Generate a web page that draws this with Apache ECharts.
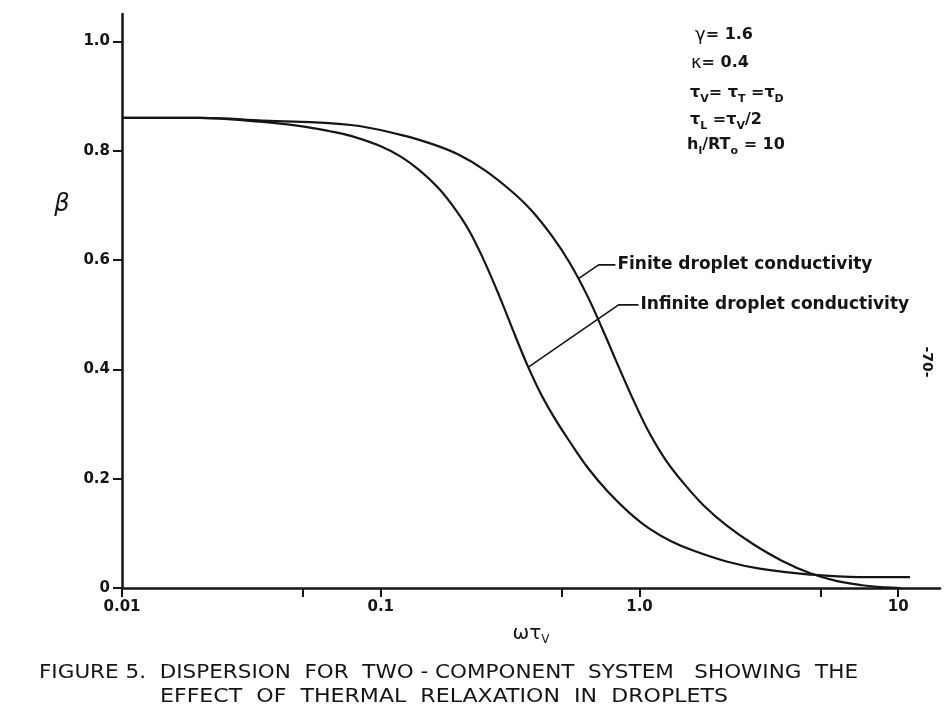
<!DOCTYPE html>
<html>
<head>
<meta charset="UTF-8">
<title>Figure 5 - Dispersion</title>
<style>
  html, body { margin: 0; padding: 0; background: #fff; }
  #container { width: 949px; height: 712px; }
</style>
</head>
<body>
<div id="container"></div>
<script src="https://cdn.jsdelivr.net/npm/echarts@6/dist/echarts.min.js"></script>
<script>
// omega*tau_v (log scale) and beta
var finiteW = [0.01, 0.02, 0.035, 0.0766, 0.1195, 0.1585, 0.1995, 0.2512, 0.3162, 0.3802, 0.4571, 0.537, 0.631, 0.7244, 0.8318, 0.955,
  1.096, 1.259, 1.479, 1.778, 2.188, 2.754, 3.548, 4.571, 5.754, 7.244, 8.913, 10.2];
var finiteB = [0.860, 0.860, 0.855, 0.847, 0.829, 0.812, 0.793, 0.765, 0.728, 0.692, 0.645, 0.595, 0.533, 0.470, 0.404, 0.340,
  0.282, 0.235, 0.192, 0.150, 0.113, 0.080, 0.050, 0.027, 0.013, 0.005, 0.001, 0.0];

var infiniteW = [0.01, 0.02, 0.032, 0.049, 0.063, 0.0766, 0.1, 0.1195, 0.1413, 0.166, 0.1905, 0.2188, 0.2512, 0.2884, 0.3311, 0.3715, 0.4169, 0.4677,
  0.537, 0.631, 0.7586, 0.912, 1.096, 1.318, 1.622, 2.188, 2.951, 4.467, 7.079, 11.1];
var infiniteB = [0.860, 0.860, 0.854, 0.845, 0.836, 0.827, 0.808, 0.789, 0.764, 0.733, 0.698, 0.655, 0.598, 0.532, 0.461, 0.404, 0.354, 0.312,
  0.268, 0.220, 0.175, 0.138, 0.108, 0.086, 0.068, 0.048, 0.035, 0.025, 0.020, 0.020];

// leader lines for the two curve labels [omega*tau_v, beta]
var finiteLeader = [[0.581, 0.566], [0.695, 0.591], [0.807, 0.591]];
var infiniteLeader = [[0.372, 0.404], [0.830, 0.518], [0.991, 0.518]];
var finiteName = 'Finite droplet conductivity';
var infiniteName = 'Infinite droplet conductivity';

// axes
var xMin = 0.01, xMax = 14.5;
var xTickValues = [0.01, 0.05, 0.1, 0.5, 1, 5, 10];
var xLabelValues = [0.01, 0.1, 1, 10];
var xLabelText = ['0.01', '0.1', '1.0', '10'];
var yTickValues = [0, 0.2, 0.4, 0.6, 0.8, 1.0];
var yMax = 1.05;

var paramLines = [
  '{g|γ}= 1.6',
  '{g|κ}= 0.4',
  'τ{s|V}= τ{s|T} =τ{s|D}',
  'τ{s|L} =τ{s|V}/2',
  'h{s|l}/RT{s|o} = 10'
];
var captionLines = [
  'FIGURE 5.  DISPERSION  FOR  TWO - COMPONENT  SYSTEM   SHOWING  THE',
  'EFFECT  OF  THERMAL  RELAXATION  IN  DROPLETS'
];
var pageNumber = '-70-';

var ink = '#151515';
var sans = "'DejaVu Sans', 'Noto Sans', sans-serif";

function toXY(w, b) {
  return w.map(function (v, i) { return [Math.log10(v), b[i]]; });
}
function leaderXY(list) {
  return list.map(function (p) { return [Math.log10(p[0]), p[1]]; });
}
function fitScale(text, font, width) {
  var ctx = document.createElement('canvas').getContext('2d');
  ctx.font = font;
  return width / ctx.measureText(text).width;
}

var chart = echarts.init(document.getElementById('container'));

var subRich = {
  g: { fontSize: 18, fontFamily: sans, lineHeight: 24, color: ink },
  s: { fontSize: 11, fontFamily: sans, fontWeight: 'bold', verticalAlign: 'bottom', lineHeight: 12, color: ink }
};

var paramY = [35, 63, 93, 120, 145];
var paramX = [695, 691, 690, 690, 687];
var graphics = [];
paramLines.forEach(function (t, i) {
  graphics.push({
    type: 'text', x: paramX[i], y: paramY[i],
    style: {
      text: t, fill: ink, font: 'bold 16px ' + sans, lineHeight: 24,
      verticalAlign: 'middle', align: 'left', rich: subRich
    }
  });
});

var capFont = '20px ' + sans;
var capLeft = [39, 160];
var capWidth = [819, 568];
var capY = [673, 697];
captionLines.forEach(function (t, i) {
  graphics.push({
    type: 'text', x: capLeft[i], y: capY[i],
    scaleX: fitScale(t, capFont, capWidth[i]),
    style: { text: t, fill: ink, font: capFont, verticalAlign: 'middle', align: 'left' }
  });
});

graphics.push({
  type: 'text', x: 62, y: 205,
  style: { text: 'β', fill: ink, font: 'italic 24px ' + sans, align: 'center', verticalAlign: 'middle' }
});
graphics.push({
  type: 'text', x: 927, y: 362, rotation: -Math.PI / 2,
  style: { text: pageNumber, fill: ink, font: 'bold 14px ' + sans, align: 'center', verticalAlign: 'middle' }
});

var labelFont = { color: ink, fontSize: 17, fontWeight: 'bold', fontFamily: sans };

var option = {
  animation: false,
  backgroundColor: '#fff',
  grid: { left: 122, right: 9, top: 14, bottom: 124 },
  xAxis: {
    type: 'value',
    min: Math.log10(xMin),
    max: Math.log10(xMax),
    axisLine: { onZero: false, lineStyle: { color: ink, width: 2.5 } },
    axisTick: {
      customValues: xTickValues.map(Math.log10),
      length: 9,
      lineStyle: { color: ink, width: 2 }
    },
    axisLabel: {
      customValues: xLabelValues.map(Math.log10),
      formatter: function (v) {
        for (var i = 0; i < xLabelValues.length; i++) {
          if (Math.abs(Math.log10(xLabelValues[i]) - v) < 1e-6) return xLabelText[i];
        }
        return '';
      },
      margin: 12, color: ink, fontSize: 15, fontWeight: 'bold', fontFamily: sans
    },
    splitLine: { show: false },
    name: '{w|ωτ}{s|V}',
    nameLocation: 'middle',
    nameGap: 34,
    nameTextStyle: {
      color: ink, fontSize: 19, lineHeight: 24,
      rich: {
        w: { fontSize: 20, fontFamily: sans, lineHeight: 24, color: ink },
        s: { fontSize: 12, fontFamily: sans, verticalAlign: 'bottom', lineHeight: 12, color: ink }
      }
    }
  },
  yAxis: {
    type: 'value',
    min: 0,
    max: yMax,
    axisLine: { show: true, onZero: false, lineStyle: { color: ink, width: 2.5 } },
    axisTick: {
      show: true,
      customValues: yTickValues,
      length: 9,
      lineStyle: { color: ink, width: 2 }
    },
    axisLabel: {
      customValues: yTickValues,
      formatter: function (v) { return v === 0 ? '0' : v.toFixed(1); },
      margin: 12, color: ink, fontSize: 15, fontWeight: 'bold', fontFamily: sans
    },
    splitLine: { show: false }
  },
  series: [
    {
      name: finiteName, type: 'line', data: toXY(finiteW, finiteB),
      smooth: 0.4, showSymbol: false,
      lineStyle: { color: ink, width: 2.2 }
    },
    {
      name: infiniteName, type: 'line', data: toXY(infiniteW, infiniteB),
      smooth: 0.4, showSymbol: false,
      lineStyle: { color: ink, width: 2.2 }
    },
    {
      type: 'line', data: leaderXY(finiteLeader), showSymbol: false,
      lineStyle: { color: ink, width: 1.6 },
      endLabel: Object.assign({ show: true, formatter: finiteName, distance: 2 }, labelFont)
    },
    {
      type: 'line', data: leaderXY(infiniteLeader), showSymbol: false,
      lineStyle: { color: ink, width: 1.6 },
      endLabel: Object.assign({ show: true, formatter: infiniteName, distance: 2 }, labelFont)
    }
  ],
  graphic: graphics
};

chart.setOption(option);
</script>
</body>
</html>
